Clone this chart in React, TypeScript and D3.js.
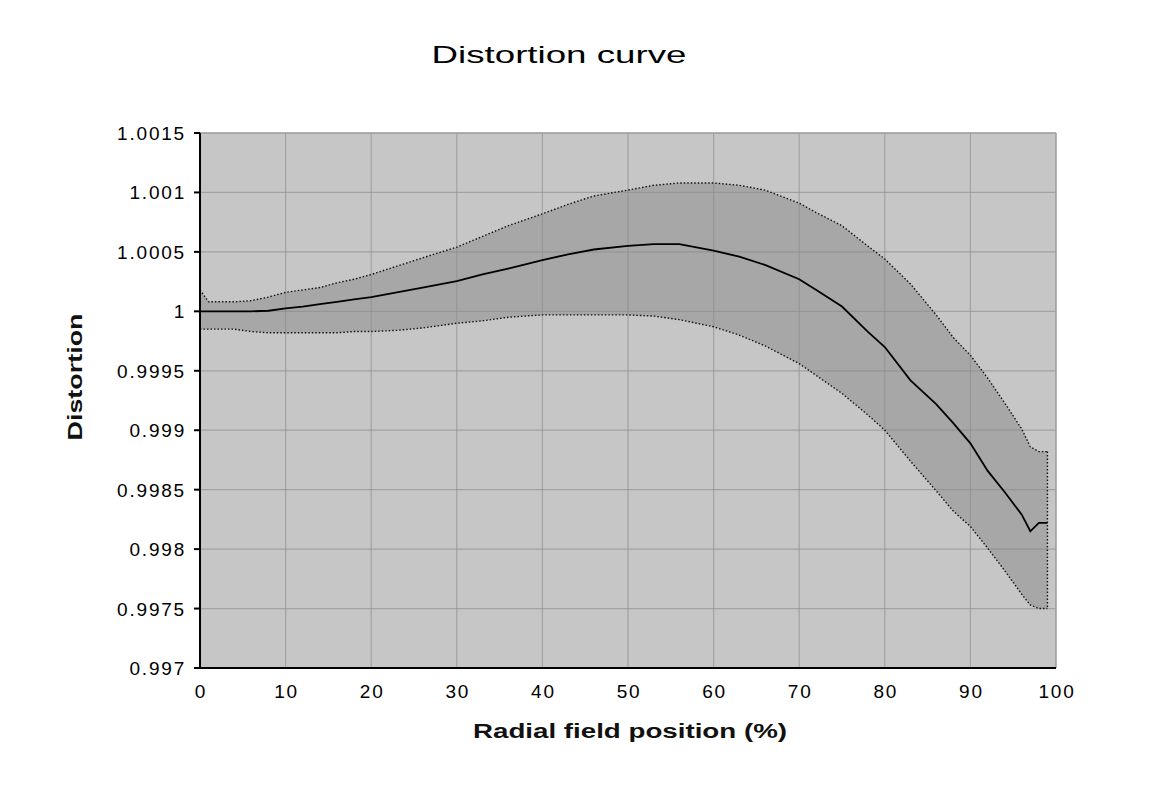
import React from "react";
import * as d3 from "d3";

const positions = [0, 1, 2, 4, 6, 8, 10, 12, 14, 16, 18, 20, 23, 26, 30, 33, 36, 40, 43, 46, 50, 53, 56, 60, 63, 66, 70, 72, 75, 78, 80, 83, 86, 88, 90, 92, 94, 96, 97, 98, 99];

const meanDistortion = [1.0, 1.0, 1.0, 1.0, 1.0, 1.000005, 1.000025, 1.00004, 1.00006, 1.00008, 1.0001, 1.00012, 1.00016, 1.0002, 1.000255, 1.00031, 1.00036, 1.00043, 1.00048, 1.00052, 1.00055, 1.000565, 1.000565, 1.00051, 1.00046, 1.00039, 1.00027, 1.00018, 1.00004, 0.99983, 0.9997, 0.99942, 0.99922, 0.99906, 0.99889, 0.99866, 0.99848, 0.99829, 0.99815, 0.99822, 0.99822];

const upperDistortion = [1.00018, 1.00008, 1.00008, 1.00008, 1.00009, 1.00012, 1.00016, 1.00018, 1.0002, 1.00024, 1.00027, 1.00031, 1.00038, 1.00045, 1.00054, 1.00063, 1.00072, 1.00082, 1.0009, 1.00097, 1.00102, 1.00106, 1.00108, 1.00108, 1.00106, 1.00102, 1.00091, 1.00083, 1.00072, 1.00055, 1.00044, 1.00023, 0.99997, 0.99978, 0.99963, 0.99944, 0.99923, 0.99901, 0.99886, 0.99882, 0.99882];

const lowerDistortion = [0.99985, 0.99985, 0.99985, 0.99985, 0.99983, 0.99982, 0.99982, 0.99982, 0.99982, 0.99982, 0.99983, 0.99983, 0.99984, 0.99986, 0.9999, 0.99992, 0.99995, 0.99997, 0.99997, 0.99997, 0.99997, 0.99996, 0.99993, 0.99987, 0.9998, 0.99971, 0.99956, 0.99946, 0.99931, 0.99913, 0.999, 0.99874, 0.99849, 0.99832, 0.99819, 0.99801, 0.99782, 0.99762, 0.99753, 0.9975, 0.9975];

const yTicks = [0.997, 0.9975, 0.998, 0.9985, 0.999, 0.9995, 1.0, 1.0005, 1.001, 1.0015];
const yTickLabels = ["0.997", "0.9975", "0.998", "0.9985", "0.999", "0.9995", "1", "1.0005", "1.001", "1.0015"];
const xTicks = [0, 10, 20, 30, 40, 50, 60, 70, 80, 90, 100];
const xTickLabels = ["0", "10", "20", "30", "40", "50", "60", "70", "80", "90", "100"];

const W = 1170;
const H = 802;
const left = 200;
const right = 1056;
const top = 133;
const bottom = 668;

export default function App() {
  const x = d3.scaleLinear().domain([0, 100]).range([left, right]);
  const y = d3.scaleLinear().domain([0.997, 1.0015]).range([bottom, top]);
  const pts = positions.map((p, i) => ({ p, m: meanDistortion[i], u: upperDistortion[i], l: lowerDistortion[i] }));

  const band = d3
    .area<any>()
    .x((d) => x(d.p))
    .y0((d) => y(d.l))
    .y1((d) => y(d.u))(pts) as string;
  const upperLine = d3.line<any>().x((d) => x(d.p)).y((d) => y(d.u))(pts) as string;
  const lowerLine = d3.line<any>().x((d) => x(d.p)).y((d) => y(d.l))(pts) as string;
  const meanLine = d3.line<any>().x((d) => x(d.p)).y((d) => y(d.m))(pts) as string;
  const last = pts[pts.length - 1];

  const tickFont = "'Liberation Sans', Arial, sans-serif";

  return (
    <svg width={W} height={H} style={{ position: "absolute", left: 0, top: 0, background: "#fff" }}>
      <rect x={left} y={top} width={right - left} height={bottom - top} fill="#c6c6c6" />
      <path d={band} fill="#a7a7a7" />
      {xTicks.slice(1, -1).map((t) => (
        <line key={"gx" + t} x1={x(t)} x2={x(t)} y1={top} y2={bottom} stroke="#8a8a8a" strokeOpacity={0.6} strokeWidth={1.2} />
      ))}
      {yTicks.slice(1, -1).map((t) => (
        <line key={"gy" + t} x1={left} x2={right} y1={y(t)} y2={y(t)} stroke="#8a8a8a" strokeOpacity={0.6} strokeWidth={1.2} />
      ))}
      <line x1={left} x2={right} y1={top} y2={top} stroke="#9a9a9a" strokeWidth={1.5} />
      <line x1={right} x2={right} y1={top} y2={bottom} stroke="#9a9a9a" strokeWidth={1.5} />
      <path d={upperLine} fill="none" stroke="#111" strokeWidth={1.4} strokeDasharray="1.5,2" />
      <path d={lowerLine} fill="none" stroke="#111" strokeWidth={1.4} strokeDasharray="1.5,2" />
      <line x1={x(last.p)} x2={x(last.p)} y1={y(last.u)} y2={y(last.l)} stroke="#111" strokeWidth={1.4} strokeDasharray="1.5,2" />
      <path d={meanLine} fill="none" stroke="#000" strokeWidth={1.8} />
      <line x1={left} x2={left} y1={top} y2={bottom} stroke="#000" strokeWidth={2} />
      <line x1={left} x2={right} y1={bottom} y2={bottom} stroke="#000" strokeWidth={2} />
      {yTicks.map((t, i) => (
        <g key={"yt" + t}>
          <line x1={left - 6} x2={left} y1={y(t)} y2={y(t)} stroke="#000" strokeWidth={2} />
          <text x={186} y={y(t) + 7} textAnchor="end" fontFamily={tickFont} fontSize={19} letterSpacing={1.8} fill="#000">
            {yTickLabels[i]}
          </text>
        </g>
      ))}
      {xTicks.map((t, i) => (
        <text key={"xt" + t} x={x(t) + 1} y={698} textAnchor="middle" fontFamily={tickFont} fontSize={19} letterSpacing={1.8} fill="#000">
          {xTickLabels[i]}
        </text>
      ))}
      <text x={559} y={63} textAnchor="middle" fontFamily={tickFont} fontSize={24} textLength={255} lengthAdjust="spacingAndGlyphs" fill="#000">
        Distortion curve
      </text>
      <text x={630} y={738} textAnchor="middle" fontFamily={tickFont} fontSize={20} fontWeight="bold" textLength={314} lengthAdjust="spacingAndGlyphs" fill="#111">
        Radial field position (%)
      </text>
      <text transform="translate(82,377) rotate(-90)" textAnchor="middle" fontFamily={tickFont} fontSize={21} fontWeight="bold" textLength={127} lengthAdjust="spacingAndGlyphs" fill="#111">
        Distortion
      </text>
    </svg>
  );
}
